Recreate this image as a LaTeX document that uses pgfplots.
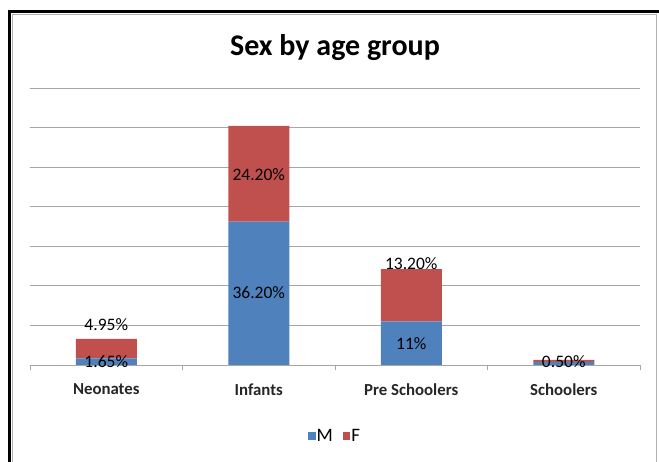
\documentclass[border=0pt]{standalone}
\usepackage{pgfplots}
\pgfplotsset{compat=1.18}
\usepackage{fontspec}
\setmainfont{Carlito}
\definecolor{exblue}{HTML}{4F81BD}
\definecolor{exred}{HTML}{C0504D}
\definecolor{gridgray}{HTML}{A6A6A6}
\tikzset{lbl/.style={font=\fontsize{17.5}{19}\selectfont, text=black}}
\begin{document}
\begin{tikzpicture}
\useasboundingbox (0pt,0pt) rectangle (659pt,462pt);
\fill[white] (0pt,0pt) rectangle (659pt,462pt);
\draw[gray!60, line width=1pt] (12.5pt,0pt) -- (12.5pt,447.5pt) -- (656.5pt,447.5pt) -- (656.5pt,0pt);
\draw[black, line width=3pt] (9pt,0pt) -- (9pt,450.5pt) -- (659pt,450.5pt);
\begin{axis}[
  at={(30pt,97pt)}, anchor=south west,
  scale only axis, width=610pt, height=277pt,
  xmin=-0.5, xmax=3.5, ymin=0, ymax=70,
  ybar stacked, bar width=61pt,
  axis line style={draw=none},
  xtick={0,1,2,3},
  xticklabels={Neonates,Infants,Pre Schoolers,Schoolers},
  x tick label style={font=\fontsize{16.8}{18}\selectfont\bfseries, text=black!85, yshift=-15pt},
  ytick={10,20,30,40,50,60,70},
  yticklabels={},
  major tick length=0pt,
  xtick pos=bottom,
  extra x ticks={-0.5,0.5,1.5,2.5,3.5},
  extra x tick labels={},
  extra x tick style={major tick length=5pt, tick align=outside, major tick style={gridgray, line width=0.8pt}},
  ymajorgrids,
  grid style={gridgray, line width=0.8pt},
  legend style={draw=none, at={(0.5,-0.256)}, anchor=center, legend columns=2,
    font=\fontsize{19}{21}\selectfont, /tikz/every even column/.append style={column sep=8pt},
    /tikz/every odd column/.append style={column sep=-1pt}},
  legend image code/.code={\fill[#1] (0pt,-3.8pt) rectangle (7.6pt,3.8pt);},
  clip=false,
]
\addplot[fill=exblue, draw=none] coordinates {(0,1.65) (1,36.2) (2,11) (3,0.8)};
\addplot[fill=exred, draw=none] coordinates {(0,4.95) (1,24.2) (2,13.2) (3,0.5)};
\legend{M,F}
\draw[gridgray, line width=0.8pt] (axis cs:-0.5,0) -- (axis cs:3.5,0);
\coordinate (a1) at (axis cs:0,10.1);
\coordinate (a2) at (axis cs:0,0.8);
\coordinate (b1) at (axis cs:1,18.2);
\coordinate (b2) at (axis cs:1,48);
\coordinate (c1) at (axis cs:2,5.5);
\coordinate (c2) at (axis cs:2,25.6);
\coordinate (d1) at (axis cs:3,0.8);
\end{axis}
\node[lbl] at (a1) {4.95\%};
\node[lbl] at (a2) {1.65\%};
\node[lbl] at (b1) {36.20\%};
\node[lbl] at (b2) {24.20\%};
\node[lbl] at (c1) {11\%};
\node[lbl] at (c2) {13.20\%};
\node[lbl] at (d1) {0.50\%};
\node[font=\fontsize{30}{34}\selectfont\bfseries] at (335pt,414pt) {Sex by age group};
\end{tikzpicture}
\end{document}
